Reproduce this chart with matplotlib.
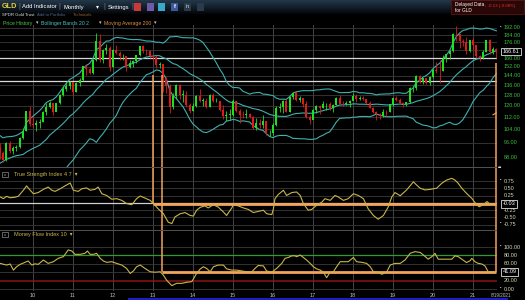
# coding=utf-8
import numpy as np
import pandas as pd
import matplotlib
matplotlib.use("Agg")
from matplotlib import pyplot as plt
from matplotlib.patches import Rectangle
from matplotlib.ticker import NullLocator
from matplotlib.colors import LinearSegmentedColormap

plt.rcParams['font.family'] = ['Liberation Sans', 'DejaVu Sans']

W, H = 525, 300

# GLD monthly closes Jul 2007 .. Feb 2009 (only used to warm up the bands)
close_hist = [65.6, 66.0, 73.6, 78.6, 77.8, 82.5,
              91.9, 96.8, 90.4, 85.6, 87.0, 91.4, 90.2, 81.8, 85.3, 71.3, 80.7, 86.5,
              91.9, 92.9]

# GLD monthly candles Mar 2009 .. Aug 2021
close = [90.2, 86.6, 95.6, 91.2, 93.2, 93.6, 98.8, 102.8, 116.1, 107.3,                  # 2009
         107.0, 108.4, 109.0, 115.4, 119.1, 121.7, 115.5, 121.9, 128.0, 132.6, 135.4, 138.7,  # 2010
         130.4, 137.6, 140.2, 152.4, 149.6, 146.0, 158.5, 177.7, 158.1, 167.7, 170.6, 152.0,  # 2011
         168.2, 164.9, 162.1, 162.1, 151.2, 155.2, 157.5, 162.6, 171.9, 166.9, 166.6, 162.0,  # 2012
         160.7, 153.7, 154.5, 142.3, 134.8, 119.1, 127.3, 135.9, 128.2, 128.3, 120.3, 116.1,  # 2013
         119.5, 127.0, 123.6, 123.7, 119.0, 128.0, 123.4, 123.7, 116.9, 112.7, 113.6, 113.6,  # 2014
         123.5, 116.2, 113.7, 113.4, 114.1, 112.4, 104.9, 108.4, 106.9, 109.3, 101.5, 101.5,  # 2015
         106.9, 118.6, 118.8, 123.8, 115.8, 126.5, 129.9, 124.0, 125.6, 121.5, 112.0, 110.2,  # 2016
         116.6, 119.9, 118.7, 121.1, 121.2, 118.0, 120.5, 125.6, 121.6, 121.0, 121.9, 123.6,  # 2017
         127.6, 125.0, 125.8, 124.6, 122.2, 118.6, 115.4, 114.1, 112.8, 115.7, 115.5, 121.3,  # 2018
         125.7, 124.0, 122.0, 120.9, 122.8, 133.2, 133.9, 143.8, 138.9, 142.0, 137.5, 142.9,  # 2019
         149.3, 148.4, 148.1, 158.8, 163.7, 167.4, 185.4, 184.6, 177.1, 176.0, 166.7, 178.4,  # 2020
         173.4, 162.1, 160.0, 165.7, 178.4, 165.6, 169.1, 166.61]                            # 2021
high = [95.5, 91.0, 96.4, 96.7, 94.2, 94.8, 99.4, 104.8, 116.5, 119.5,
        113.0, 110.3, 111.0, 116.3, 122.3, 123.3, 122.0, 122.3, 128.5, 135.2, 138.3, 139.3,
        138.7, 138.4, 141.7, 152.6, 153.6, 151.4, 159.3, 185.9, 185.0, 168.6, 174.7, 171.7,
        169.4, 173.6, 167.5, 163.6, 161.3, 157.9, 158.4, 162.8, 172.0, 172.9, 169.6, 168.0,
        162.6, 162.9, 155.9, 154.8, 143.1, 136.7, 129.9, 137.1, 137.2, 131.9, 131.3, 121.8,
        122.3, 128.0, 133.0, 126.0, 125.5, 128.5, 129.3, 126.0, 123.8, 120.7, 116.5, 117.7,
        125.2, 123.0, 117.8, 116.3, 117.3, 114.8, 112.5, 111.6, 110.5, 113.3, 109.4, 103.9,
        107.9, 119.5, 121.7, 124.1, 124.8, 127.0, 130.6, 131.1, 127.5, 125.5, 123.3, 113.4,
        117.4, 120.5, 120.7, 123.6, 122.0, 123.0, 121.0, 126.2, 128.3, 123.7, 123.5, 124.0,
        129.6, 129.1, 127.6, 127.6, 124.8, 123.2, 119.2, 116.0, 114.7, 117.3, 117.0, 121.5,
        125.8, 127.1, 125.4, 122.9, 123.0, 134.1, 135.6, 144.3, 144.8, 142.3, 142.1, 143.3,
        149.6, 156.0, 158.0, 162.8, 164.4, 167.6, 185.8, 194.5, 185.6, 179.7, 181.6, 178.9,
        180.7, 172.0, 163.5, 168.0, 178.9, 179.7, 171.5, 170.3]
low = [86.9, 85.2, 86.0, 90.4, 89.8, 91.1, 93.0, 97.9, 102.7, 106.0,
       105.3, 102.7, 104.7, 108.5, 113.5, 118.0, 113.5, 116.4, 121.5, 127.3, 131.5, 133.0,
       128.2, 130.5, 134.8, 139.2, 144.2, 145.0, 145.0, 157.5, 156.0, 155.0, 164.0, 147.8,
       151.7, 164.3, 158.4, 158.1, 148.3, 150.5, 152.0, 155.7, 162.2, 165.2, 162.7, 160.0,
       158.2, 150.5, 150.5, 130.4, 129.7, 114.7, 117.4, 125.0, 124.9, 122.9, 119.0, 115.0,
       116.0, 119.0, 122.5, 119.6, 118.3, 119.0, 123.0, 122.5, 116.0, 111.0, 109.6, 109.9,
       113.1, 115.6, 108.0, 111.1, 111.4, 111.5, 104.0, 103.6, 105.0, 104.9, 100.4, 100.2,
       100.5, 106.3, 115.4, 115.0, 115.3, 115.3, 124.9, 123.8, 122.8, 119.2, 111.5, 107.3,
       110.5, 115.1, 113.9, 118.6, 116.8, 117.0, 115.5, 120.5, 121.3, 119.9, 120.5, 118.9,
       124.0, 123.0, 124.0, 124.1, 120.7, 118.0, 114.6, 110.0, 111.0, 112.3, 113.1, 115.5,
       119.6, 123.5, 121.1, 119.2, 119.8, 122.3, 130.5, 132.3, 137.3, 137.0, 136.5, 136.3,
       142.2, 146.5, 137.7, 147.9, 156.6, 159.4, 165.9, 177.0, 170.5, 172.0, 164.1, 166.4,
       169.4, 160.2, 157.1, 159.6, 166.0, 164.5, 163.9, 160.5]

# moving average 200 (only its last two months are on screen)
ma200_t = [2021.50, 2021.58]
ma200_v = [113.6, 114.9]

# True Strength Index 4 7
tsi_t = [2009.18, 2009.26, 2009.34, 2009.43, 2009.55, 2009.63, 2009.76, 2009.84, 2009.93,
         2010.01, 2010.13, 2010.26, 2010.38, 2010.47, 2010.55, 2010.68, 2010.80, 2010.93,
         2011.01, 2011.13, 2011.22, 2011.34, 2011.43, 2011.55, 2011.63, 2011.72, 2011.84, 2011.97,
         2012.09, 2012.22, 2012.34, 2012.47, 2012.59, 2012.68, 2012.80, 2012.93,
         2013.01, 2013.13, 2013.26, 2013.38, 2013.47, 2013.55, 2013.68, 2013.80, 2013.93,
         2014.01, 2014.09, 2014.18, 2014.30, 2014.38, 2014.51, 2014.63, 2014.76, 2014.84, 2014.97,
         2015.01, 2015.13, 2015.26, 2015.38, 2015.51, 2015.63, 2015.76, 2015.84, 2015.97,
         2016.01, 2016.05, 2016.13, 2016.26, 2016.34, 2016.47, 2016.59, 2016.68, 2016.76, 2016.88, 2016.97,
         2017.09, 2017.22, 2017.30, 2017.43, 2017.55, 2017.63, 2017.76, 2017.88,
         2018.01, 2018.13, 2018.26, 2018.38, 2018.51, 2018.63, 2018.76, 2018.88, 2018.97,
         2019.05, 2019.18, 2019.34, 2019.51, 2019.59, 2019.68, 2019.80, 2019.93,
         2020.09, 2020.22, 2020.34, 2020.47, 2020.55, 2020.63, 2020.72, 2020.84, 2020.97,
         2021.05, 2021.15, 2021.25, 2021.35, 2021.43, 2021.50]
tsi_v = [0.21, 0.15, 0.23, 0.18, 0.20, 0.23, 0.44, 0.59, 0.44,
         0.32, 0.36, 0.47, 0.55, 0.44, 0.40, 0.49, 0.59, 0.69,
         0.44, 0.40, 0.49, 0.52, 0.44, 0.47, 0.55, 0.32, 0.26, 0.13,
         0.15, 0.09, -0.02, -0.06, 0.15, 0.24, 0.17, 0.09,
         -0.02, -0.20, -0.37, -0.66, -0.71, -0.48, -0.37, -0.33, -0.43,
         -0.45, -0.25, -0.15, -0.10, -0.17, -0.06, -0.14, -0.31, -0.43, -0.17,
         -0.06, -0.10, -0.17, -0.22, -0.33, -0.29, -0.25, -0.37, -0.40,
         -0.20, 0.15, 0.29, 0.44, 0.26, 0.36, 0.38, 0.26, -0.02, -0.25, -0.22,
         -0.08, 0.03, 0.15, 0.09, 0.26, 0.21, 0.09, 0.15,
         0.32, 0.26, 0.15, -0.20, -0.43, -0.56, -0.43, -0.14, 0.21,
         0.36, 0.25, 0.45, 0.73, 0.62, 0.51, 0.45, 0.47,
         0.51, 0.68, 0.79, 0.85, 0.79, 0.68, 0.51, 0.33, 0.16,
         0.01, -0.13, -0.07, 0.05, -0.05, -0.03]

# Money Flow Index 10
mfi_t = [2009.18, 2009.26, 2009.34, 2009.43, 2009.51, 2009.59, 2009.68, 2009.80, 2009.88, 2009.97,
         2010.05, 2010.13, 2010.26, 2010.38, 2010.51, 2010.63, 2010.76, 2010.88, 2010.97,
         2011.05, 2011.18, 2011.30, 2011.36, 2011.43, 2011.51, 2011.59, 2011.68, 2011.76, 2011.84, 2011.97,
         2012.09, 2012.22, 2012.34, 2012.43, 2012.51, 2012.59, 2012.68, 2012.80, 2012.93,
         2013.05, 2013.18, 2013.26, 2013.34, 2013.47, 2013.59, 2013.72, 2013.84, 2013.97,
         2014.09, 2014.18, 2014.26, 2014.34, 2014.43, 2014.51, 2014.63, 2014.76, 2014.84, 2014.97,
         2015.09, 2015.22, 2015.34, 2015.47, 2015.55, 2015.63, 2015.76, 2015.84, 2015.97,
         2016.09, 2016.22, 2016.30, 2016.38, 2016.47, 2016.55, 2016.59, 2016.68, 2016.76, 2016.84, 2016.93,
         2017.01, 2017.09, 2017.18, 2017.26, 2017.34, 2017.43, 2017.51, 2017.59, 2017.68, 2017.76, 2017.88,
         2018.01, 2018.09, 2018.22, 2018.34, 2018.43, 2018.51, 2018.63, 2018.72, 2018.84, 2018.93,
         2019.05, 2019.18, 2019.30, 2019.43, 2019.55, 2019.68, 2019.76, 2019.88, 2019.97,
         2020.05, 2020.13, 2020.22, 2020.34, 2020.47, 2020.55, 2020.63, 2020.72, 2020.84, 2020.93, 2020.97,
         2021.05, 2021.13, 2021.22, 2021.30, 2021.38, 2021.47, 2021.55]
mfi_v = [61, 59, 57, 59.5, 45, 53, 58.7, 63.5, 66.7, 57,
         60, 58.7, 69, 61, 65, 73, 77, 93, 90.5,
         82.5, 82.5, 85, 90.5, 82.5, 82.5, 85, 73, 66.7, 63.5, 65,
         61, 57, 49, 37, 43, 53, 57, 49, 41,
         40, 41, 33, 21, 8, 13.5, 13.5, 16, 17.5,
         37, 47.6, 53, 49, 41, 53, 57, 57, 48, 45,
         45, 43, 41, 41, 49, 56, 55, 43, 40,
         49, 61, 73, 75, 79, 79, 77, 81, 75, 69, 61,
         53, 48, 45, 40, 27, 40, 41, 53, 65, 65, 65,
         75, 65, 63.5, 61, 53, 41, 40, 35, 40, 57,
         61, 61, 69, 85, 89, 87, 81, 71, 77,
         85, 71, 71, 71, 71, 79, 77, 71, 63, 67.5, 73,
         65, 61, 59.5, 55, 41, 40.5, 40.5]

# user drawn levels / lines
white_levels = [160.5, 139.5]
tsi_last, mfi_last = -0.03, 41.09
mark_a, mark_b, mark_end = 2013.0, 2013.225, 2021.575

price_ticks = [192, 184, 176, 168, 160, 152, 144, 136, 128, 120, 112, 104, 96, 88]
tsi_ticks = [0.75, 0.50, 0.25, -0.25, -0.50, -0.75]
mfi_ticks = [100, 80, 60, 20, 0]
years = list(range(2010, 2022))

GREEN, RED = '#1fe01f', '#e01a1a'
BAND = '#3fb0b0'
ORANGE = '#f4a35c'
IND = '#c9b64a'
GRID = '#3a3a3a'

# ---------- derived series ----------
close = np.array(close)
high = np.array(high)
low = np.array(low)
opn = np.r_[close_hist[-1], close[:-1]]
t = 2009 + 2 / 12 + np.arange(len(close)) / 12

s = pd.Series(close_hist + list(close))
mid = s.rolling(20).mean().values[-len(close):]
sd = s.rolling(20).std(ddof=0).values[-len(close):]

xmin, xmax = 2009.175, 2009.175 + 497 / 40

fig = plt.figure(figsize=(W / 100, H / 100), dpi=100, facecolor='black')


def box(y0, y1):
    return [0, 1 - y1 / H, 497 / W, (y1 - y0) / H]


def ftext(x, y, txt, **kw):
    kw.setdefault('va', 'center')
    fig.text(x / W, 1 - y / H, txt, **kw)


def frect(x0, y0, w, h, **kw):
    fig.add_artist(Rectangle((x0 / W, 1 - (y0 + h) / H), w / W, h / H,
                             transform=fig.transFigure, **kw))


ax = fig.add_axes(box(25, 167))
ax_tsi = fig.add_axes(box(167, 230))
ax_mfi = fig.add_axes(box(230, 291))

for a in (ax, ax_tsi, ax_mfi):
    a.set_facecolor('black')
    for sp in a.spines.values():
        sp.set_visible(False)
    a.set_xlim(xmin, xmax)
    a.set_xticks(years)
    a.tick_params(length=0, labelbottom=False, labelleft=False)
    a.grid(axis='x', color='#454545', lw=0.7)
    a.set_axisbelow(True)

# ---------- price panel ----------
ax.set_yscale('log')
ax.set_ylim(82.84, 195.5)
ax.set_yticks(price_ticks)
ax.yaxis.set_minor_locator(NullLocator())
ax.tick_params(which='both', length=0, labelleft=False)
ax.grid(axis='y', color=GRID, lw=0.6)

for lv in white_levels:
    ax.axhline(lv, color='#d8d8d8', lw=0.9, zorder=1)

cols = np.where(close >= opn, GREEN, RED)
ax.vlines(t, low, high, colors=cols, lw=0.6, zorder=3)
ax.bar(t, np.maximum(np.abs(close - opn), 0.3), bottom=np.minimum(close, opn),
       width=0.055, color=cols, linewidth=0, zorder=3)

ax.plot(t, mid, color=BAND, lw=0.8, zorder=2)
ax.plot(t, mid + 2 * sd, color=BAND, lw=0.8, zorder=2)
ax.plot(t, mid - 2 * sd, color=BAND, lw=0.8, zorder=2)
ax.plot(ma200_t, ma200_v, color=ORANGE, lw=0.8, zorder=2)

ax.vlines([mark_a, mark_b], 82.84, 144.4, color=ORANGE, lw=1.1, zorder=4)
ax.vlines([mark_end], 82.84, 155.3, color=ORANGE, lw=1.1, zorder=4)

for p in price_ticks:
    if p == 168:
        continue
    ax.text(1.014, p, f"{p:.2f}", transform=ax.get_yaxis_transform(),
            color='#3cbf3c', fontsize=4, va='center', clip_on=False)
ax.text(1.011, close[-1], f"{close[-1]:.2f}", transform=ax.get_yaxis_transform(),
        color='white', fontsize=4, va='center', clip_on=False,
        bbox=dict(boxstyle='square,pad=0.25', fc='black', ec='#e0e0e0', lw=0.6))

# ---------- TSI panel ----------
ax_tsi.set_ylim(-0.931, 1.241)
ax_tsi.set_yticks(tsi_ticks)
ax_tsi.grid(axis='y', color=GRID, lw=0.6)
ax_tsi.axhline(0, color='#cfcfcf', lw=0.9, zorder=1)
ax_tsi.vlines([mark_a], tsi_last, 1.241, color=ORANGE, lw=1.1, zorder=4)
ax_tsi.vlines([mark_b, mark_end], -0.931, 1.241, color=ORANGE, lw=1.1, zorder=4)
ax_tsi.hlines(tsi_last, mark_a, mark_end, color=ORANGE, lw=2, zorder=4)
ax_tsi.plot(tsi_t, tsi_v, color=IND, lw=0.8, zorder=5)
for v in tsi_ticks:
    ax_tsi.text(1.014, v, f"{v:.2f}", transform=ax_tsi.get_yaxis_transform(),
                color='#d6d4b0', fontsize=4, va='center', clip_on=False)
ax_tsi.text(1.011, tsi_last, f"{tsi_last:.2f}", transform=ax_tsi.get_yaxis_transform(),
            color='white', fontsize=4, va='center', clip_on=False,
            bbox=dict(boxstyle='square,pad=0.25', fc='black', ec='#e0e0e0', lw=0.6))

# ---------- MFI panel ----------
ax_mfi.set_ylim(-4.76, 140.5)
ax_mfi.set_yticks([100, 60, 40, 0])
ax_mfi.grid(axis='y', color=GRID, lw=0.6)
ax_mfi.axhline(80, color='#2f9a2f', lw=0.9, zorder=1)
ax_mfi.axhline(20, color='#8a1414', lw=1.1, zorder=1)
ax_mfi.vlines([mark_b, mark_end], mfi_last, 140.5, color=ORANGE, lw=1.1, zorder=4)
ax_mfi.hlines(mfi_last, mark_b, mark_end, color=ORANGE, lw=2, zorder=4)
ax_mfi.plot(mfi_t, mfi_v, color=IND, lw=0.8, zorder=5)
for v in mfi_ticks:
    ax_mfi.text(1.014, v, f"{v:.2f}", transform=ax_mfi.get_yaxis_transform(),
                color='#d6d4b0', fontsize=4, va='center', clip_on=False)
ax_mfi.text(1.011, mfi_last, f"{mfi_last:.2f}", transform=ax_mfi.get_yaxis_transform(),
            color='white', fontsize=4, va='center', clip_on=False,
            bbox=dict(boxstyle='square,pad=0.25', fc='black', ec='#e0e0e0', lw=0.6))

for y in years:
    ax_mfi.text(y, -0.08, f"{y % 100:02d}", transform=ax_mfi.get_xaxis_transform(),
                color='#bdbdbd', fontsize=4, ha='center', va='center', clip_on=False)
ax_mfi.text(2021.45, -0.08, "8/19/2021", transform=ax_mfi.get_xaxis_transform(),
            color='#bdbdbd', fontsize=3.3, ha='left', va='center', clip_on=False)

# panel separators
for y in (167, 230):
    frect(0, y - 0.5, 497, 1, color='#505050', lw=0)

# ---------- header ----------
hdr = fig.add_axes([0, 1 - 14 / H, 1, 14 / H])
hdr.imshow(np.linspace(1, 0, 30).reshape(-1, 1), aspect='auto',
           cmap=LinearSegmentedColormap.from_list('hdr', ['#03060a', '#23384a']))
hdr.set_axis_off()

ftext(1.5, 7, "GLD", color='#e6cf3c', fontsize=5.2, fontweight='bold')
for x in (18, 58, 103, 131):
    ftext(x, 7, "|", color='#6a7a8a', fontsize=5)
ftext(22, 7, "Add Indicator", color='white', fontsize=4.2)
ftext(63, 7, "Monthly", color='white', fontsize=4.2)
ftext(96, 7, "▾", color='white', fontsize=4.2)
ftext(108, 7, "Settings", color='white', fontsize=4.2)
for x, c in [(134, '#c83a3a'), (147, '#6e5aa8'), (158, '#3aa8c8'), (171, '#3b5a9a'),
             (184, '#2a3a4a'), (197, '#2a3a4a')]:
    frect(x, 2.5, 7, 8, color=c, lw=0)
ftext(174.5, 7, "f", color='white', fontsize=4, ha='center', fontweight='bold')
ftext(187.5, 7, "in", color='white', fontsize=3.5, ha='center')

frect(451, 0.5, 73, 13.5, fc='#2a0707', ec='#5a1414', lw=0.6)
ftext(455, 4.5, "Delayed Data", color='white', fontsize=3.4)
ftext(455, 10.5, "for GLD", color='white', fontsize=3.4)
ftext(484, 6.5, "↓ -0.13 (-0.08%)", color='#e03030', fontsize=3.2)

ftext(2, 15.5, "SPDR Gold Trust", color='#e6e6e6', fontsize=3.1)
ftext(37, 15.5, "Add to Portfolio", color='#55698f', fontsize=3.1)
ftext(73, 15.5, "Technicals", color='#9a6530', fontsize=3.1)

ftext(3, 23, "Price History", color='#49c949', fontsize=3.7)
ftext(35.5, 23, "▾", color='#cccccc', fontsize=3.6)
ftext(41, 23, "Bollinger Bands 20 2", color='#4cc3c3', fontsize=3.7)
ftext(98.5, 23, "▾", color='#cccccc', fontsize=3.6)
ftext(104, 23, "Moving Average 200", color='#e08a40', fontsize=3.7)
ftext(153.5, 23, "▾", color='#cccccc', fontsize=3.6)

# indicator captions
for y, txt in [(174.5, "True Strength Index 4 7  ▾"), (234.5, "Money Flow Index 10  ▾")]:
    frect(2, y - 2.8, 5.6, 5.6, fc='none', ec='#8a8a8a', lw=0.5)
    ftext(4.8, y, "x", color='#aaaaaa', fontsize=3, ha='center')
    ftext(14, y, txt, color=IND, fontsize=4)

# little white handles on the right scale
for x, y in [(501, 28), (501, 181), (501, 224), (501, 247), (501, 289)]:
    ftext(x, y, "•", color='white', fontsize=3.2, ha='center')
ftext(500, 166, "▴▴", color='white', fontsize=3, ha='center')

# scroll bar
frect(128, 298, 380, 2, color='#1c1cc8', lw=0)

fig.savefig("out.png", dpi=100, facecolor='black')
